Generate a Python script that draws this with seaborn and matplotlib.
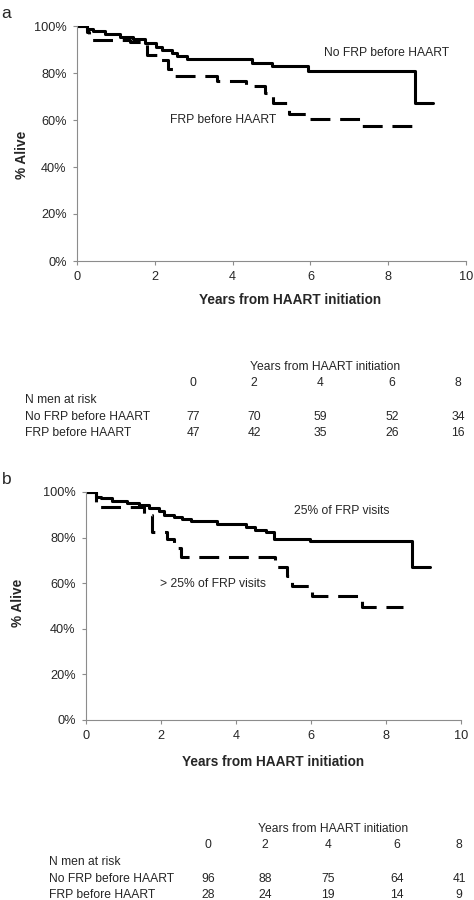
import pandas as pd
import matplotlib
matplotlib.use('Agg')
import matplotlib.pyplot as plt
import seaborn as sns

sns.set_style('white')
plt.rcParams['font.family'] = ['Liberation Sans', 'DejaVu Sans']

# panel a: Kaplan-Meier steps (years, % alive)
a_no_years = [0, 0.25, 0.42, 0.72, 1.1, 1.45, 1.75, 2.03, 2.18, 2.43, 2.56, 2.82, 4.49, 5.0, 5.95, 8.69, 9.14]
a_no_alive = [100, 98.8, 97.7, 96.5, 95.5, 94.3, 92.9, 91.2, 89.7, 88.3, 87.1, 85.8, 84.3, 83.0, 81.0, 67.4, 67.4]
a_frp_years = [0, 0.25, 0.32, 1.35, 1.65, 1.8, 2.08, 2.35, 2.52, 3.6, 4.35, 4.83, 5.05, 5.45, 6.0, 7.33, 8.69]
a_frp_alive = [100, 97.5, 94.2, 93.2, 92.2, 87.8, 85.5, 81.5, 78.7, 76.6, 74.3, 71.5, 67.4, 62.7, 60.4, 57.3, 57.3]

# panel b
b_lo_years = [0, 0.26, 0.39, 0.70, 1.1, 1.41, 1.68, 1.95, 2.08, 2.35, 2.57, 2.79, 3.5, 4.26, 4.52, 4.79, 5.01, 5.97, 8.68, 9.17]
b_lo_alive = [100, 97.9, 97.2, 96.2, 95.3, 94.3, 93.1, 91.5, 89.9, 88.9, 88.0, 87.2, 86.0, 84.8, 83.5, 82.3, 79.6, 78.3, 67.2, 67.2]
b_hi_years = [0, 0.27, 1.55, 1.77, 2.17, 2.35, 2.52, 5.04, 5.35, 5.49, 6.02, 7.35, 8.46]
b_hi_alive = [100, 93.4, 89.8, 82.6, 79.5, 75.5, 71.6, 67.3, 63.2, 58.7, 54.4, 49.7, 49.7]

x_ticks = [0, 2, 4, 6, 8, 10]
y_ticks = [0, 20, 40, 60, 80, 100]
y_labels = ['0%', '20%', '40%', '60%', '80%', '100%']

risk_years = ['0', '2', '4', '6', '8']
risk_rows = ['No FRP before HAART', 'FRP before HAART']
risk_a_no = [77, 70, 59, 52, 34]
risk_a_frp = [47, 42, 35, 26, 16]
risk_b_no = [96, 88, 75, 64, 41]
risk_b_frp = [28, 24, 19, 14, 9]

W, H = 474, 900
fig = plt.figure(figsize=(W / 100, H / 100), dpi=100)
ax_a = fig.add_axes([77 / W, 1 - 261 / H, 389 / W, 235 / H])
ax_b = fig.add_axes([86 / W, 1 - 720 / H, 375 / W, 228 / H])

dash_map = {'solid': '', 'dashed': (6.5, 3.2)}


def km_frame(y1, s1, y2, s2):
    d1 = pd.DataFrame({'years': y1, 'alive': s1, 'group': 'solid'})
    d2 = pd.DataFrame({'years': y2, 'alive': s2, 'group': 'dashed'})
    return pd.concat([d1, d2], ignore_index=True)


def style_axis(ax, xlabel_xy, ylabel_xy):
    ax.set_xlim(0, 10)
    ax.set_ylim(0, 100)
    ax.set_xticks(x_ticks)
    ax.set_yticks(y_ticks)
    ax.set_yticklabels(y_labels)
    for side in ['top', 'right']:
        ax.spines[side].set_visible(False)
    for side in ['left', 'bottom']:
        ax.spines[side].set_color('#8c8c8c')
        ax.spines[side].set_linewidth(0.8)
    ax.tick_params(axis='both', direction='out', length=3, width=0.8, color='#8c8c8c',
                   labelsize=9.2, pad=4.5, left=True, bottom=True)
    ax.set_xlabel('Years from HAART initiation', fontsize=9.8, fontweight='bold')
    ax.set_ylabel('% Alive', fontsize=9.8, fontweight='bold')
    ax.xaxis.set_label_coords(*xlabel_xy)
    ax.yaxis.set_label_coords(*ylabel_xy)


for ax, df in [(ax_a, km_frame(a_no_years, a_no_alive, a_frp_years, a_frp_alive)),
               (ax_b, km_frame(b_lo_years, b_lo_alive, b_hi_years, b_hi_alive))]:
    sns.lineplot(data=df, x='years', y='alive', style='group', style_order=['solid', 'dashed'],
                 dashes=dash_map, color='black', lw=2.2, drawstyle='steps-post',
                 estimator=None, legend=False, ax=ax)

style_axis(ax_a, ((290 - 77) / 389, -0.135), (-0.123, 0.451))
style_axis(ax_b, (0.5, -0.153), (-0.163, 0.513))

ann = 8.7
ax_a.text(7.97, 88.5, 'No FRP before HAART', ha='center', va='center', fontsize=ann)
ax_a.text(3.75, 60.0, 'FRP before HAART', ha='center', va='center', fontsize=ann)
ax_b.text(6.83, 91.7, '25% of FRP visits', ha='center', va='center', fontsize=ann)
ax_b.text(3.39, 59.6, '> 25% of FRP visits', ha='center', va='center', fontsize=ann)

fig.text(1 / W, 1 - 14 / H, 'a', fontsize=12.5, va='center')
fig.text(2 / W, 1 - 479 / H, 'b', fontsize=12.5, va='center')


def risk_table(top, head_x, cols, label_x, no_vals, frp_vals):
    fs = 8.7
    fig.text(head_x / W, 1 - top / H, 'Years from HAART initiation', ha='center', va='center', fontsize=fs)
    for cx, lab in zip(cols, risk_years):
        fig.text(cx / W, 1 - (top + 16) / H, lab, ha='center', va='center', fontsize=fs)
    fig.text(label_x / W, 1 - (top + 33) / H, 'N men at risk', ha='left', va='center', fontsize=fs)
    for k, (name, vals) in enumerate(zip(risk_rows, [no_vals, frp_vals])):
        yy = 1 - (top + 50 + 16 * k) / H
        fig.text(label_x / W, yy, name, ha='left', va='center', fontsize=fs)
        for cx, v in zip(cols, vals):
            fig.text(cx / W, yy, str(v), ha='center', va='center', fontsize=fs)


risk_table(367, 325, [193, 254, 320, 392, 458], 25, risk_a_no, risk_a_frp)
risk_table(829, 333, [208, 265, 328, 397, 459], 49, risk_b_no, risk_b_frp)

fig.savefig('out.png', dpi=100, facecolor='white')
